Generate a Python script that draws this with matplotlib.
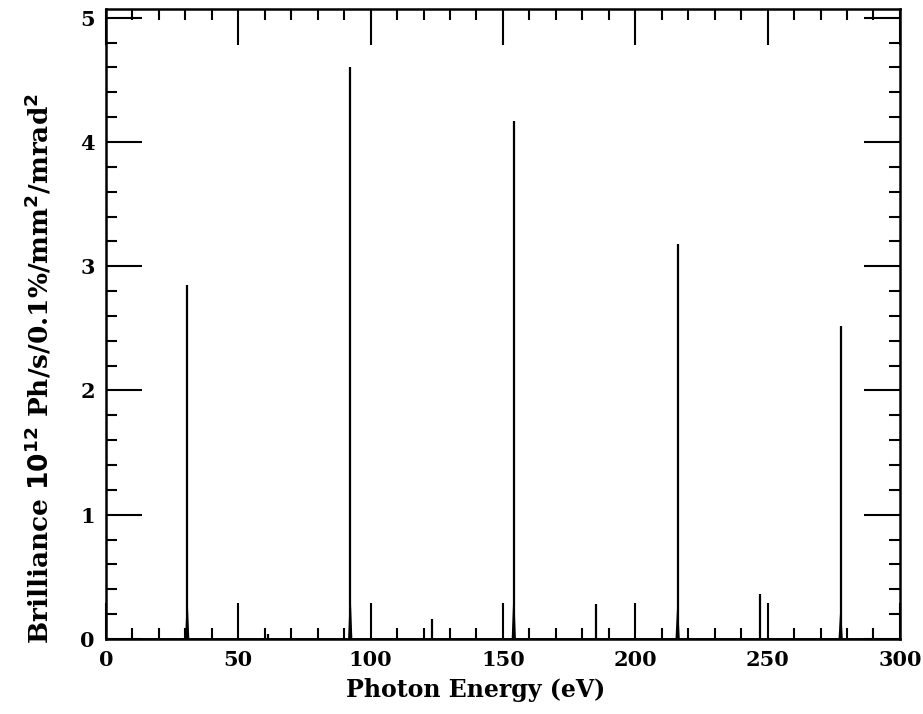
import matplotlib.pyplot as plt
import numpy as np
from matplotlib.ticker import MultipleLocator

# harmonic lines (eV) and their brilliance (1e12 Ph/s/0.1%/mm^2/mrad^2)
odd_E = [30.7, 92.3, 154.1, 216.0, 277.6]
odd_B = [2.85, 4.60, 4.17, 3.18, 2.52]
even_E = [61.4, 123.1, 185.3, 247.0]
even_B = [0.04, 0.16, 0.28, 0.36]
base_w = [1.6, 1.6, 1.6, 1.6, 1.6]
base_h = [0.4, 0.45, 0.45, 0.35, 0.3]

plt.rcParams["font.family"] = ["DejaVu Serif"]
plt.rcParams["font.weight"] = "bold"
plt.rcParams["mathtext.default"] = "bf"

fig = plt.figure(figsize=(9.23, 7.14), dpi=100)
ax1 = fig.add_axes([0.1148, 0.1050, 0.8602, 0.8824])

# baseline
ax1.plot([0, 300], [0, 0], "-k", lw=2)

for E, B, w, h in zip(odd_E, odd_B, base_w, base_h):
    ax1.vlines(E, 0, B, color="k", lw=1.6)
    ax1.fill([E - w / 2, E, E + w / 2], [0, h, 0], color="k", lw=0)
for E, B in zip(even_E, even_B):
    ax1.vlines(E, 0, B, color="k", lw=1.6)

ax1.set_xlim(0, 300)
ax1.set_ylim(0, 5.07)
ax1.xaxis.set_major_locator(MultipleLocator(50))
ax1.xaxis.set_minor_locator(MultipleLocator(10))
ax1.yaxis.set_major_locator(MultipleLocator(1))
ax1.yaxis.set_minor_locator(MultipleLocator(0.2))
ax1.tick_params(which="both", direction="in", top=True, right=True,
                width=1.5, labelsize=15, pad=8)
ax1.tick_params(which="major", length=26)
ax1.tick_params(which="minor", length=8)
for s in ax1.spines.values():
    s.set_linewidth(1.8)

ax1.set_xlabel("Photon Energy (eV)", fontsize=17, fontweight="bold")
ax1.set_ylabel(r"Brilliance $10^{12}$ Ph/s/0.1%/mm$^{2}$/mrad$^{2}$",
               fontsize=19, fontweight="bold")
ax1.xaxis.set_label_coords(0.465, -0.062)
ax1.yaxis.set_label_coords(-0.066, 0.43)

fig.savefig("out.png", dpi=100)
